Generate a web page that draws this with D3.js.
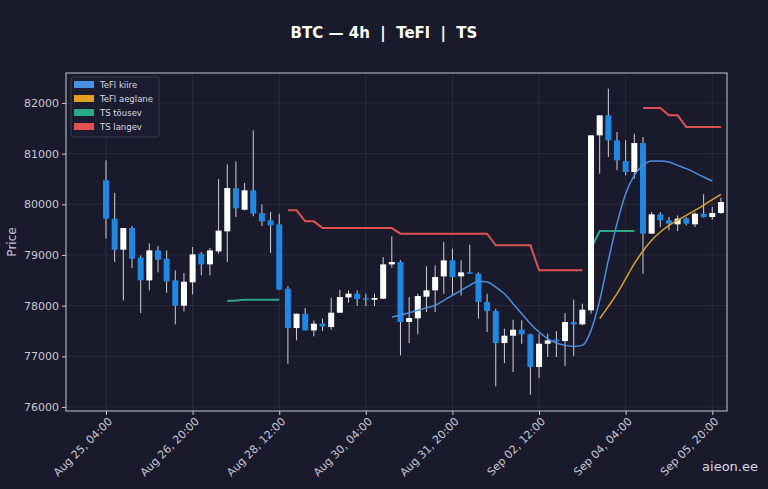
<!DOCTYPE html><html><head><meta charset="utf-8"><script src="https://cdn.jsdelivr.net/npm/d3@7"></script>
<style>body{margin:0;background:#191a2c}</style></head><body><svg id="c" width="768" height="489"></svg><script>
const opens=[80473,79716,79105,79532,78947,78499,79091,78927,78499,77999,78460,79025,78815,79072,79467,80316,79894,80276,79828,79684,79605,78335,77558,77841,77512,77644,77578,77861,78164,78236,78144,78118,78137,78815,78861,77677,77750,78177,78302,78578,78894,78578,78657,78631,78072,77894,77262,77407,77525,77433,76789,77249,77328,77302,77677,77631,77907,81362,81756,81263,80855,80638,81210,79421,79802,79684,79605,79723,79605,79815,79750,79828];
const highs=[80868,80223,79532,79572,78993,79230,79177,79091,78697,78644,79157,79058,79137,80499,80789,80848,80421,81460,79999,79848,79815,78387,77841,77953,77710,77743,78157,78315,78302,78302,78236,78236,78960,79368,78894,78170,78236,78776,78796,79256,79124,78894,79203,78657,78236,77940,77545,77723,77710,77446,77446,77446,77499,77854,78118,78039,81362,81756,82283,81427,81263,81394,81329,79848,79848,79750,79782,79750,79841,80197,79947,80132];
const lows=[79322,78861,78104,78743,77854,78302,78657,78256,77631,77887,78223,78598,78598,79025,78861,79750,79881,79763,79572,79039,78315,76854,77315,77512,77394,77499,77525,77861,78058,77993,77993,77993,78137,78749,77019,77262,77433,77874,77874,78236,78203,78203,78631,77743,77480,76407,76867,76690,77249,76242,76571,76986,76986,76808,77000,77611,77841,80605,80934,80671,80572,80506,78631,79421,79552,79486,79473,79585,79552,79736,79697,79815];
const closes=[79716,79105,79532,78927,78499,79091,78907,78479,77999,78473,79012,78815,79091,79480,80322,79920,80276,79815,79664,79585,78315,77558,77841,77512,77644,77591,77861,78170,78236,78131,78124,78151,78815,78861,77677,77756,78190,78302,78565,78894,78565,78657,78631,78072,77894,77262,77407,77525,77433,76789,77249,77315,77302,77677,77631,77920,81362,81756,81263,80868,80638,81210,79421,79802,79684,79618,79717,79618,79815,79750,79828,80046];
const N=opens.length;
const tsDown=[[21,79881],[22,79881],[23,79664],[24,79664],[25,79532],[26,79532],[27,79532],[28,79532],[29,79532],[30,79532],[31,79532],[32,79532],[33,79532],[34,79421],[35,79421],[36,79421],[37,79421],[38,79421],[39,79421],[40,79421],[41,79421],[42,79421],[43,79421],[44,79421],[45,79190],[46,79190],[47,79190],[48,79190],[49,79190],[50,78697],[51,78697],[52,78697],[53,78697],[54,78697],[55,78697],[62,81901],[63,81901],[64,81901],[65,81756],[66,81756],[67,81526],[68,81526],[69,81526],[70,81526],[71,81526]];
const tsUp=[[14,78091],[15,78100],[16,78118],[17,78118],[18,78118],[19,78118],[20,78118],[56,79124],[57,79473],[58,79473],[59,79473],[60,79473],[61,79473]];
const fast=[77776,77809,77861,77907,77960,78006,78105,78203,78302,78401,78480,78467,78368,78236,78039,77841,77644,77480,77348,77262,77216,77196,77216,77512,78105,78894,79618,80210,80572,80769,80855,80855,80835,80769,80704,80625,80539,80460];
const fastStart=33;
const slow=[77743,77986,78236,78532,78828,79078,79289,79453,79585,79684,79783,79881,79980,80092,80197];
const slowStart=57;
const t0=Date.UTC(2024,7,25,4);
const tickIdx=[0,10,20,30,40,50,60,70];
const yTicks=[76000,77000,78000,79000,80000,81000,82000];

const svg=d3.select("#c");
const L=66,R=727,T=73,B=411;
const x=d3.scaleLinear().domain([-4.62,71.7]).range([L,R]);
const y=d3.scaleLinear().domain([75921,82592]).range([B,T]);
const fmt=d3.utcFormat("%b %d, %H:%M");
const grid="rgba(255,255,255,0.07)";
svg.append("g").selectAll("line").data(yTicks).join("line").attr("x1",L).attr("x2",R).attr("y1",d=>y(d)).attr("y2",d=>y(d)).attr("stroke",grid);
svg.append("g").selectAll("line").data(tickIdx).join("line").attr("y1",T).attr("y2",B).attr("x1",d=>x(d)).attr("x2",d=>x(d)).attr("stroke",grid);
svg.append("rect").attr("x",L).attr("y",T).attr("width",R-L).attr("height",B-T).attr("fill","none").attr("stroke","#c8c8d0").attr("stroke-width",1);
const ya=svg.append("g").attr("transform",`translate(${L},0)`).call(d3.axisLeft(y).tickValues(yTicks).tickFormat(d3.format("d")).tickSize(4));
const xa=svg.append("g").attr("transform",`translate(0,${B})`).call(d3.axisBottom(x).tickValues(tickIdx).tickFormat(i=>fmt(new Date(t0+i*4*3600e3))).tickSize(4));
[ya,xa].forEach(a=>{a.select(".domain").remove();a.selectAll("line").attr("stroke","#c8c8d0");a.selectAll("text").attr("fill","#c8c8d0").attr("font-family","DejaVu Sans").attr("font-size",11);});
xa.selectAll("text").attr("text-anchor","end").attr("transform","rotate(-45)").attr("dx","-0.3em").attr("dy","0.5em");
svg.append("text").attr("x",16).attr("y",(T+B)/2).attr("transform",`rotate(-90,16,${(T+B)/2})`).attr("text-anchor","middle").attr("fill","#c8c8d0").attr("font-family","DejaVu Sans").attr("font-size",12).text("Price");
svg.append("text").attr("x",384).attr("y",38).attr("text-anchor","middle").attr("fill","#fff").attr("font-family","DejaVu Sans").attr("font-weight","bold").attr("font-size",15).text("BTC — 4h  |  TeFl  |  TS").style("white-space","pre");

const ln=d3.line().defined(d=>d).x(d=>x(d[0])).y(d=>y(d[1]));
function withGaps(arr){const out=[];arr.forEach((d,k)=>{if(k>0&&d[0]-arr[k-1][0]>1)out.push(null);out.push(d);});return out;}
svg.append("path").attr("d",ln(withGaps(tsDown))).attr("fill","none").attr("stroke","#e05252").attr("stroke-width",2);
svg.append("path").attr("d",ln(withGaps(tsUp))).attr("fill","none").attr("stroke","#2aa889").attr("stroke-width",2);

const g=svg.append("g");
const w=6;
for(let i=0;i<N;i++){const up=closes[i]>=opens[i];const col=up?"#ffffff":"#1e88e5";
g.append("line").attr("x1",x(i)).attr("x2",x(i)).attr("y1",y(highs[i])).attr("y2",y(lows[i])).attr("stroke","#d0d0d8").attr("stroke-width",1);
g.append("rect").attr("x",x(i)-w/2).attr("width",w).attr("y",y(Math.max(opens[i],closes[i]))).attr("height",Math.max(1.5,Math.abs(y(opens[i])-y(closes[i])))).attr("fill",col);}
const cl=d3.line().curve(d3.curveMonotoneX).x(d=>x(d[0])).y(d=>y(d[1]));
svg.append("path").attr("d",cl(fast.map((v,k)=>[fastStart+k,v]))).attr("fill","none").attr("stroke","#4a90e2").attr("stroke-width",1.5);
svg.append("path").attr("d",cl(slow.map((v,k)=>[slowStart+k,v]))).attr("fill","none").attr("stroke","#e0a020").attr("stroke-width",1.5);

const leg=[["TeFl kiire","#4a90e2"],["TeFl aeglane","#e0a020"],["TS tõusev","#2aa889"],["TS langev","#e05252"]];
svg.append("rect").attr("x",71).attr("y",77).attr("width",88).attr("height",60).attr("rx",2).attr("fill","#1b1c30").attr("stroke","#3a3b50");
leg.forEach((d,k)=>{svg.append("rect").attr("x",74).attr("y",81+k*14).attr("width",20).attr("height",7).attr("fill",d[1]);
svg.append("text").attr("x",100).attr("y",88+k*14).attr("fill","#d8d8e0").attr("font-family","DejaVu Sans").attr("font-size",8.5).text(d[0]);});
svg.append("text").attr("x",758).attr("y",471).attr("text-anchor","end").attr("fill","#d8d8e0").attr("font-family","DejaVu Sans").attr("font-size",13).text("aieon.ee");
</script></body></html>
